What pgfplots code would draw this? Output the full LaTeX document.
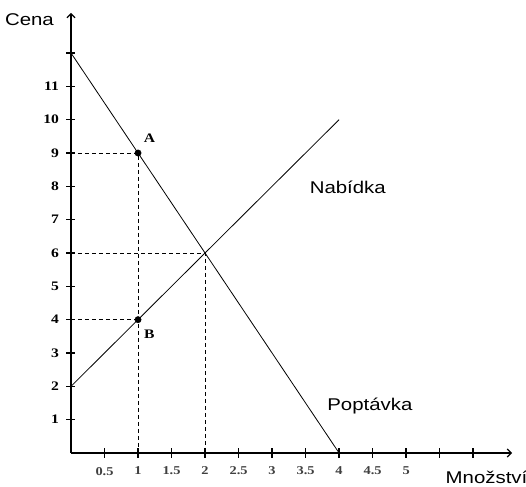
\documentclass[border=0pt]{standalone}
\usepackage{pgfplots}
\pgfplotsset{compat=1.18}
\usepackage{fontspec}
\setmainfont{Liberation Sans}[FakeStretch=1.2]
\newfontfamily\tickfont{Liberation Serif}[FakeStretch=1.2]
\usetikzlibrary{arrows.meta}
\begin{document}
\begin{tikzpicture}[x=1pt,y=1pt]
\path[use as bounding box] (-71,-33) rectangle (455,453);
\begin{axis}[
  anchor=south west, at={(0,0)},
  scale only axis, width=441pt, height=440pt,
  xmin=0, xmax=6.58, ymin=0, ymax=13.2,
  axis lines=left, clip=false,
  axis line style={line width=1.8pt, -{Straight Barb[length=4pt,width=8pt,line width=1.1pt]}},
  xtick={0.5,1,1.5,2,2.5,3,3.5,4,4.5,5,5.5,6},
  xticklabels={0.5,1,1.5,2,2.5,3,3.5,4,4.5,5,,},
  ytick={1,2,3,4,5,6,7,8,9,10,11,12},
  yticklabels={1,2,3,4,5,6,7,8,9,10,11,},
  tick align=center, major tick length=9pt,
  every tick/.style={line width=1.3pt, black},
  xticklabel style={font=\fontsize{12}{12}\selectfont\tickfont\bfseries, text=black!75, yshift=-6pt},
  yticklabel style={font=\fontsize{13}{13}\selectfont\tickfont\bfseries, xshift=-4pt},
]
\addplot[black, line width=0.8pt] coordinates {(0,12) (4,0)};
\addplot[black, line width=0.8pt] coordinates {(0,2) (4,10)};
\addplot[black, line width=0.9pt, dash pattern=on 4pt off 3pt] coordinates {(0,9) (1,9) (1,0)};
\addplot[black, line width=0.9pt, dash pattern=on 4pt off 3pt] coordinates {(0,6) (2,6) (2,0)};
\addplot[black, line width=0.9pt, dash pattern=on 4pt off 3pt] coordinates {(0,4) (1,4)};
\addplot[only marks, mark=*, mark size=3.2pt, black] coordinates {(1,9) (1,4)};
\node[font=\fontsize{13}{13}\selectfont\tickfont\bfseries] at (axis cs:1.17,9.45) {A};
\node[font=\fontsize{13}{13}\selectfont\tickfont\bfseries] at (axis cs:1.17,3.55) {B};
\node[font=\fontsize{17}{17}\selectfont] at (axis cs:4.13,7.98) {Nabídka};
\node[font=\fontsize{17}{17}\selectfont] at (axis cs:4.46,1.41) {Poptávka};
\node[font=\fontsize{17}{17}\selectfont] at (axis cs:-0.62,13.0) {Cena};
\node[font=\fontsize{17}{17}\selectfont] at (axis cs:6.2,-0.72) {Množství};
\end{axis}
\end{tikzpicture}
\end{document}
